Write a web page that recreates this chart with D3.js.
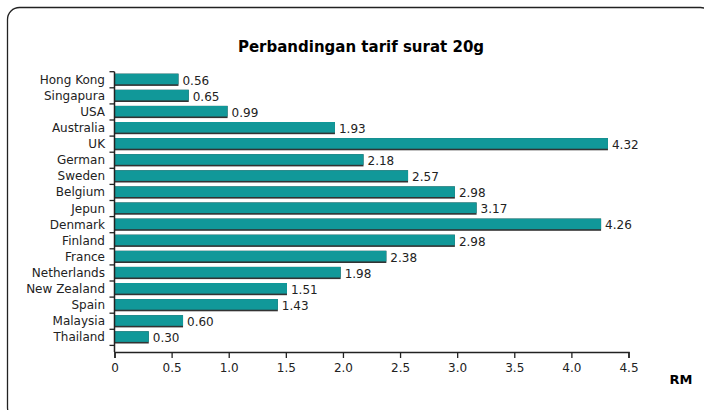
<!DOCTYPE html>
<html>
<head>
<meta charset="utf-8">
<script src="https://cdn.jsdelivr.net/npm/d3@7"></script>
<style>
    body { margin: 0; background: #fff; }
    text { font-family: "DejaVu Sans", Verdana, sans-serif; fill: #222; }
</style>
</head>
<body>
<div id="chart"></div>
<script>
// data
const countries = ["Hong Kong", "Singapura", "USA", "Australia", "UK", "German", "Sweden", "Belgium",
    "Jepun", "Denmark", "Finland", "France", "Netherlands", "New Zealand", "Spain", "Malaysia", "Thailand"];
const rates = [0.56, 0.65, 0.99, 1.93, 4.32, 2.18, 2.57, 2.98, 3.17, 4.26, 2.98, 2.38, 1.98, 1.51, 1.43, 0.60, 0.30];
const xTicks = [0, 0.5, 1.0, 1.5, 2.0, 2.5, 3.0, 3.5, 4.0, 4.5];
const title = "Perbandingan tarif surat 20g";
const unitLabel = "RM";

const W = 704, H = 410;
const plotLeft = 114.5, plotRight = 628.5, plotTop = 71.7, plotBottom = 352;
const rowStep = 16.1;

let svg = d3.select("#chart").append("svg")
    .attr("width", W)
    .attr("height", H);

// frame
svg.append("rect")
    .attr("x", 7.5).attr("y", 7.5)
    .attr("width", 705).attr("height", 412)
    .attr("rx", 12)
    .attr("fill", "none")
    .attr("stroke", "#222")
    .attr("stroke-width", 1.3);

svg.append("text")
    .attr("x", 361).attr("y", 51.5)
    .attr("text-anchor", "middle")
    .style("font-size", "15px")
    .style("font-weight", "bold")
    .style("fill", "#000")
    .text(title);

let x = d3.scaleLinear().domain([0, 4.5]).range([plotLeft, plotRight]);
let y = d3.scaleBand().domain(countries)
    .range([plotTop, plotTop + rowStep * countries.length]);

// bars (shadow + bar)
let bars = svg.append("g");
bars.selectAll(".shadow")
    .data(rates)
    .enter().append("rect")
    .attr("x", plotLeft)
    .attr("y", (d, i) => y(countries[i]) + 2)
    .attr("width", d => x(d) - plotLeft)
    .attr("height", 12.2)
    .attr("fill", "#333");

bars.selectAll(".bar")
    .data(rates)
    .enter().append("rect")
    .attr("x", plotLeft)
    .attr("y", (d, i) => y(countries[i]) + 2)
    .attr("width", d => x(d) - plotLeft)
    .attr("height", 10.6)
    .attr("fill", "#119899");

// value labels
svg.append("g").selectAll("text")
    .data(rates)
    .enter().append("text")
    .attr("x", d => x(d) + 4)
    .attr("y", (d, i) => y(countries[i]) + 12.8)
    .style("font-size", "12px")
    .text(d => d.toFixed(2));

// category labels
svg.append("g").selectAll("text")
    .data(countries)
    .enter().append("text")
    .attr("x", 105)
    .attr("y", d => y(d) + 12)
    .attr("text-anchor", "end")
    .style("font-size", "12px")
    .text(d => d);

// y axis line + ticks at band edges
let yAxis = svg.append("g");
yAxis.append("line")
    .attr("x1", plotLeft).attr("x2", plotLeft)
    .attr("y1", plotTop).attr("y2", plotBottom)
    .attr("stroke", "#222").attr("stroke-width", 1.5);
yAxis.selectAll(".tick")
    .data(countries.concat(["__end"]))
    .enter().append("line")
    .attr("x1", plotLeft - 5).attr("x2", plotLeft)
    .attr("y1", (d, i) => i < countries.length ? y(d) : y.range()[1])
    .attr("y2", (d, i) => i < countries.length ? y(d) : y.range()[1])
    .attr("stroke", "#222").attr("stroke-width", 1.3);

// x axis
let xAxis = svg.append("g")
    .attr("transform", `translate(0, ${plotBottom})`)
    .call(d3.axisBottom(x)
        .tickValues(xTicks)
        .tickSize(6)
        .tickPadding(5)
        .tickFormat(d => d === 0 ? "0" : d3.format(".1f")(d)));
xAxis.select(".domain").attr("stroke", "#222").attr("stroke-width", 1.5);
xAxis.selectAll(".tick line").attr("stroke", "#222").attr("stroke-width", 1.3);
xAxis.selectAll(".tick text")
    .style("font-family", "'DejaVu Sans', Verdana, sans-serif")
    .style("font-size", "12px")
    .attr("fill", "#222");

svg.append("text")
    .attr("x", 681).attr("y", 384)
    .attr("text-anchor", "middle")
    .style("font-size", "13px")
    .style("font-weight", "bold")
    .style("fill", "#000")
    .text(unitLabel);
</script>
</body>
</html>
